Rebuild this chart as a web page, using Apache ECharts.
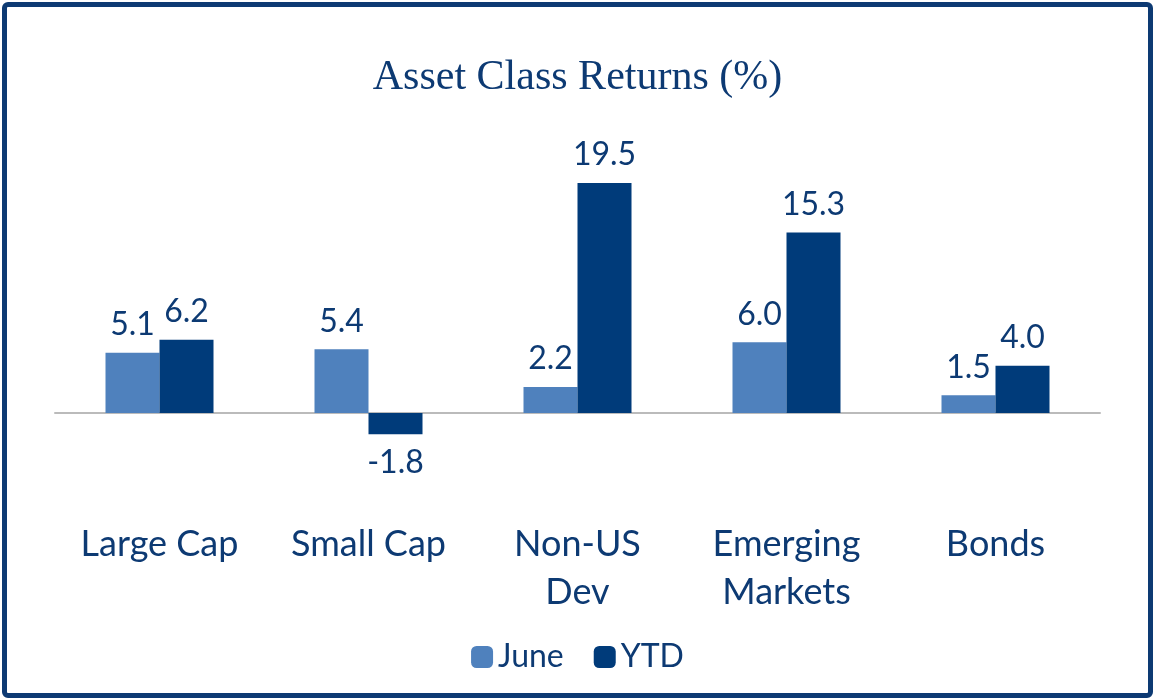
<!DOCTYPE html>
<html><head><meta charset="utf-8">
<script src="https://cdn.jsdelivr.net/npm/echarts@6/dist/echarts.min.js"></script>
<style>html,body{margin:0;padding:0;background:#fff}
#frame{position:absolute;left:2px;top:2px;width:1141px;height:686px;border:5px solid #0d3a73;border-radius:6px}
#c{position:absolute;left:0;top:0;width:1155px;height:700px}</style></head>
<body><div id="frame"></div><div id="c"></div>
<script>
const categories=['Large Cap','Small Cap','Non-US\nDev','Emerging\nMarkets','Bonds'];
const june=[5.1,5.4,2.2,6.0,1.5];
const ytd=[6.2,-1.8,19.5,15.3,4.0];
const navy='#0d3a73';
const chart=echarts.init(document.getElementById('c'));
const lbl={show:true,position:'top',distance:12,color:navy,fontSize:32,fontFamily:'Lato',formatter:p=>p.value.toFixed(1)};
chart.setOption({
 title:{text:'Asset Class Returns (%)',left:'center',top:52,textStyle:{fontFamily:'Liberation Serif',fontWeight:'normal',fontSize:42,color:navy}},
 legend:{bottom:22,itemWidth:22,itemHeight:22,itemGap:30,textStyle:{fontSize:32,color:navy,fontFamily:'Lato'},data:['June','YTD']},
 grid:{left:55,right:55,top:177,height:295},
 xAxis:[{type:'category',data:categories,axisLine:{onZero:true,lineStyle:{color:'#bbb',width:2}},axisTick:{show:false},axisLabel:{show:false}},
 {type:'category',data:categories,position:'bottom',axisLine:{show:false,onZero:false},axisTick:{show:false},axisLabel:{margin:48,fontSize:36,lineHeight:48,color:navy,fontFamily:'Lato'}}],
 yAxis:{type:'value',min:-5,max:20,show:false,splitLine:{show:false}},
 series:[
  {name:'June',type:'bar',data:june,barWidth:54,barGap:'0%',itemStyle:{color:'#4f81bd'},label:lbl},
  {name:'YTD',type:'bar',barWidth:54,itemStyle:{color:'#003b7a'},label:lbl,
   data:ytd.map(v=>({value:v,label:{position:v<0?'bottom':'top'}}))}
 ]});
</script></body></html>
